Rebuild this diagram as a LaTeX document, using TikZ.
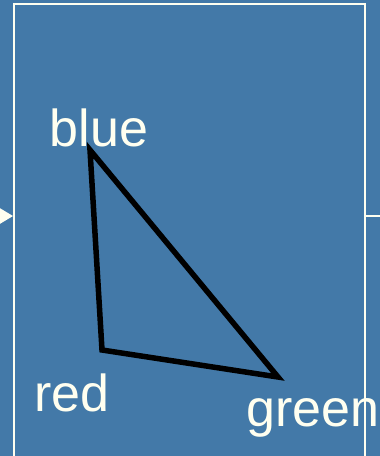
\documentclass[tikz,border=0pt]{standalone}
\usepackage{fontspec}
\setmainfont{Liberation Sans}
\definecolor{bgblue}{RGB}{67,121,168}
\definecolor{ivory}{RGB}{255,255,240}
\begin{document}
\begin{tikzpicture}[x=1pt,y=-1pt,
  lbl/.style={text=ivory,inner sep=0pt,anchor=base west,font=\fontsize{52}{62}\selectfont},
  frame/.style={draw=ivory,line width=2pt},
  tri/.style={draw=black,line width=5.5pt,line join=miter}]
\fill[bgblue] (0,0) rectangle (380,456);
\useasboundingbox (0,0) rectangle (380,456);
\begin{scope}
\clip (0,0) rectangle (380,456);
\draw[frame] (14,470) -- (14,4) -- (364.5,4) -- (364.5,470);
\coordinate (rin) at (364.5,216);
\coordinate (rout) at (381,216);
\draw[frame] (rin) -- (rout);
\coordinate (tip) at (13,216);
\fill[ivory] (-2,207) -- (tip) -- (-2,225) -- cycle;
\end{scope}
\coordinate (b) at (90,150);
\coordinate (r) at (102,350);
\coordinate (g) at (278,377);
\draw[tri] (b) -- (r) -- (g) -- cycle;
\node[lbl] (lb) at (49.5,146) {blue};
\node[lbl] (lr) at (34,411.5) {red};
\node[lbl] (lg) at (246,426) {green};
\end{tikzpicture}
\end{document}
